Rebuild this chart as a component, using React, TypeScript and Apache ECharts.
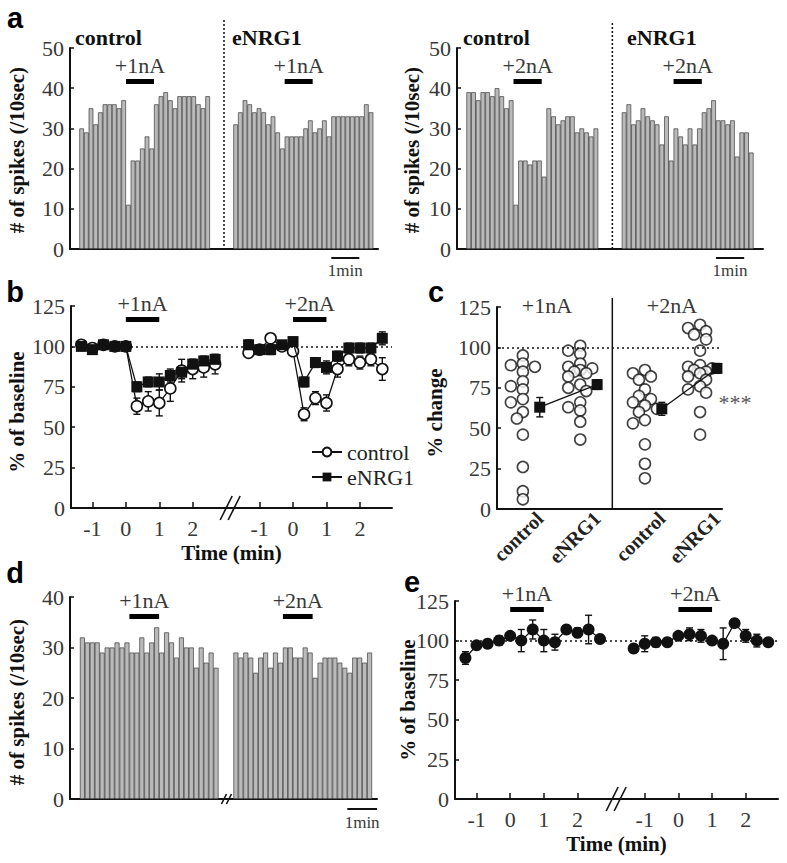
import React, { useEffect, useRef } from 'react';
import * as echarts from 'echarts';

// ================= DATA =================
// (a) number of spikes per 10-s bin
const aControl1nA = [30, 29, 35, 31, 34, 36, 36, 36, 35, 37, 11, 22, 22, 25, 28, 25, 36, 38, 39, 37, 35, 38, 38, 38, 38, 36, 35, 38];
const aENRG1_1nA = [31, 34, 37, 36, 34, 35, 34, 31, 33, 29, 25, 28, 28, 28, 28, 30, 32, 29, 30, 32, 28, 33, 33, 33, 33, 33, 33, 33, 36, 34];
const aControl2nA = [39, 39, 37, 39, 39, 38, 40, 38, 35, 37, 11, 22, 22, 21, 22, 22, 18, 35, 33, 31, 32, 33, 33, 29, 30, 29, 28, 30];
const aENRG1_2nA = [34, 36, 31, 32, 35, 33, 32, 31, 26, 33, 22, 30, 28, 26, 30, 26, 30, 34, 35, 37, 32, 32, 31, 32, 23, 29, 29, 24];

// (b) % of baseline (20-s bins), time in min
const timePoints = [-1.33, -1, -0.67, -0.33, 0, 0.33, 0.67, 1, 1.33, 1.67, 2, 2.33, 2.67];
const bControl1nA = [101, 99, 101, 100, 100, 63, 66, 65, 74, 85, 86, 87, 89];
const bControl1nAErr = [2, 2, 2, 2, 2, 5, 6, 8, 8, 7, 6, 6, 6];
const bENRG1_1nA = [100, 98, 101, 100, 100, 75, 78, 78, 82, 84, 89, 91, 92];
const bENRG1_1nAErr = [2, 2, 2, 2, 2, 3, 3, 5, 4, 4, 3, 3, 3];
const bControl2nA = [96, 98, 105, 100, 97, 58, 68, 65, 86, 92, 90, 92, 86];
const bControl2nAErr = [2, 3, 2, 2, 2, 4, 4, 5, 5, 4, 4, 4, 7];
const bENRG1_2nA = [101, 98, 98, 101, 103, 78, 90, 87, 94, 99, 99, 99, 105];
const bENRG1_2nAErr = [3, 3, 3, 2, 2, 3, 3, 4, 3, 3, 3, 3, 4];
const timeTicks = [-1, 0, 1, 2];

// (c) % change, individual cells and mean ± SEM
const cCategories = ['control', 'eNRG1', 'control', 'eNRG1'];
const cControl1nA = [95, 90, 89, 88, 85, 79, 76, 74, 68, 66, 60, 56, 46, 26, 11, 6];
const cENRG1_1nA = [101, 98, 96, 90, 88, 87, 86, 85, 84, 82, 77, 75, 73, 66, 63, 61, 54, 43];
const cControl2nA = [86, 84, 82, 80, 74, 70, 68, 66, 64, 62, 60, 55, 53, 40, 28, 19];
const cENRG1_2nA = [114, 112, 110, 108, 105, 98, 89, 88, 87, 86, 85, 84, 82, 80, 76, 74, 72, 60, 46];
const cMeans = [63, 77, 62, 87];
const cMeanErr = [6, 3, 4, 3];

// (d) number of spikes per 10-s bin
const d1nA = [32, 31, 31, 31, 29, 30, 30, 31, 30, 31, 29, 29, 32, 29, 31, 34, 29, 33, 31, 28, 32, 30, 30, 26, 30, 27, 29, 26];
const d2nA = [29, 28, 29, 28, 25, 28, 29, 26, 29, 27, 30, 30, 28, 28, 30, 29, 24, 27, 28, 28, 28, 27, 26, 25, 28, 28, 27, 29];

// (e) % of baseline
const e1nA = [89, 97, 98, 100, 103, 100, 107, 100, 99, 107, 105, 107, 101];
const e1nAErr = [4, 2, 2, 3, 2, 7, 6, 7, 5, 2, 3, 9, 2];
const e2nA = [95, 98, 99, 99, 103, 104, 103, 100, 98, 111, 103, 100, 99];
const e2nAErr = [2, 5, 3, 2, 2, 4, 4, 2, 10, 2, 4, 4, 2];

// ================= LAYOUT / STYLE =================
const SERIF = 'Liberation Serif, Times New Roman, Times, serif';
const SANS = 'Liberation Sans, Arial, Helvetica, sans-serif';
const INK = '#111';
const LABEL = '#383838';
const BAR_FILL = '#bababa';
const SHIFT = 5; // second protocol drawn 5 min to the right on the time axes

const GRIDS = [
  { left: 70, top: 48, width: 308, height: 201 }, // a left
  { left: 457, top: 48, width: 306, height: 201 }, // a right
  { left: 71, top: 306, width: 321, height: 202 }, // b
  { left: 497, top: 307, width: 225, height: 202 }, // c
  { left: 70, top: 597, width: 307, height: 202 }, // d
  { left: 455, top: 601, width: 323, height: 198 }, // e
];
// bin layout for the histogram panels: [nBins, offset of 1st trace, offset of 2nd trace]
const BIN_LAYOUT = { aL: [66, 2, 35], aR: [65, 2, 35], d: [62, 2, 33] };
// stimulus start (index within trace)
const STIM_IDX = { aL: [10, 11], aR: [10, 11], d: [10, 10] };
const C_POS = [-0.04, 0.98, 2.13, 3.11];
const MEAN_DX = 0.3;

function binned(n: number, segs: [number, number[]][]) {
  const arr: (number | string)[] = new Array(n).fill('-');
  segs.forEach(([off, vals]) => vals.forEach((v, i) => (arr[off + i] = v)));
  return arr;
}

// simple beeswarm layout: horizontal offsets (px) so that circles overlap only partially
function swarm(vals: number[], center: number, pxPerX: number, pxPerY: number) {
  const placed: [number, number][] = [];
  const offs = [0, -1, 1, -2, 2].map((k) => k * 6);
  return vals.map((v) => {
    let best = 0;
    let bestScore = -Infinity;
    for (const o of offs) {
      const minD = placed.reduce((m, [ox, oy]) => Math.min(m, Math.hypot(ox - o, (oy - v) * pxPerY)), Infinity);
      if (minD >= 8) { best = o; bestScore = Infinity; break; }
      if (minD > bestScore + 0.5) { bestScore = minD; best = o; }
    }
    placed.push([best, v]);
    return [center + best / pxPerX, v];
  });
}

function errRender(_p: any, api: any) {
  const x = api.value(0), y = api.value(1), e = api.value(2);
  const top = api.coord([x, y + e]);
  const bot = api.coord([x, y - e]);
  const w = 3.5;
  const st = { stroke: INK, lineWidth: 1.4 };
  return {
    type: 'group',
    children: [
      { type: 'line', shape: { x1: top[0], y1: top[1], x2: bot[0], y2: bot[1] }, style: st },
      { type: 'line', shape: { x1: top[0] - w, y1: top[1], x2: top[0] + w, y2: top[1] }, style: st },
      { type: 'line', shape: { x1: bot[0] - w, y1: bot[1], x2: bot[0] + w, y2: bot[1] }, style: st },
    ],
  };
}

const yAx = (gi: number, max: number, interval: number) => ({
  type: 'value', gridIndex: gi, min: 0, max, interval,
  splitLine: { show: false },
  axisLine: { show: true, onZero: false, lineStyle: { color: INK, width: 2 } },
  axisTick: { show: true, inside: true, length: 4, lineStyle: { color: INK, width: 1.5 } },
  axisLabel: { fontFamily: SERIF, fontSize: 22, color: LABEL, margin: 6 },
});

const xBar = (gi: number, n: number) => ({
  type: 'category', gridIndex: gi, data: Array.from({ length: n }, (_, i) => String(i)),
  boundaryGap: true,
  axisLine: { onZero: false, lineStyle: { color: INK, width: 2 } },
  axisTick: { show: false }, axisLabel: { show: false }, splitLine: { show: false },
});

const timeCustom = [...timeTicks, ...timeTicks.map((t) => t + SHIFT)];
const xTime = (gi: number) => ({
  type: 'value', gridIndex: gi, min: -1.64, max: 7.96,
  splitLine: { show: false },
  axisLine: { onZero: false, lineStyle: { color: INK, width: 2 } },
  axisTick: { show: true, inside: true, length: 6, customValues: timeCustom, lineStyle: { color: INK, width: 1.5 } },
  axisLabel: {
    customValues: timeCustom, fontFamily: SERIF, fontSize: 22, color: LABEL, margin: 9,
    formatter: (v: number) => String(v > 3 ? Math.round(v - SHIFT) : Math.round(v)),
  },
  name: 'Time (min)', nameLocation: 'middle', nameGap: 34,
  nameTextStyle: { fontFamily: SERIF, fontSize: 21, fontWeight: 'bold', color: INK },
});

const barStyle = { color: BAR_FILL, borderColor: '#3c3c3c', borderWidth: 0.7 };
const barSeries = (i: number, n: number, segs: [number, number[]][]) => ({
  type: 'bar', xAxisIndex: i, yAxisIndex: i, data: binned(n, segs),
  barCategoryGap: '0%', barGap: '0%', itemStyle: barStyle, silent: true,
});

const baseline100 = {
  silent: true, symbol: ['none', 'none'], label: { show: false },
  lineStyle: { type: [2, 3], color: INK, width: 1.6 }, data: [{ yAxis: 100 }],
};

const openCircle = { color: '#fff', borderColor: INK, borderWidth: 1.6 };
const solid = { color: INK, borderColor: INK, borderWidth: 0 };
const lineSeries = (name: string, i: number, data: number[][], symbol: string, size: number, itemStyle: any, extra: any = {}) => ({
  name, type: 'line', xAxisIndex: i, yAxisIndex: i, data, symbol, symbolSize: size, itemStyle,
  lineStyle: { color: INK, width: 1.3 }, showSymbol: true, emphasis: { disabled: true }, z: 3, ...extra,
});
const errSeries = (i: number, rows: number[][]) => ({
  type: 'custom', xAxisIndex: i, yAxisIndex: i, data: rows, encode: { x: 0, y: 1 },
  renderItem: errRender, silent: true, z: 2,
});

const pts = (vals: number[], shift = 0) => timePoints.map((t, k) => [t + shift, vals[k]]);
const errRows = (vals: number[], errs: number[], shift = 0) => timePoints.map((t, k) => [t + shift, vals[k], errs[k]]);

function buildOption() {
  const [nL, oL1, oL2] = BIN_LAYOUT.aL;
  const [nR, oR1, oR2] = BIN_LAYOUT.aR;
  const [nD, oD1, oD2] = BIN_LAYOUT.d;
  const pxX = GRIDS[3].width / 4;
  const pxY = GRIDS[3].height / 125;
  const cGroups = [cControl1nA, cENRG1_1nA, cControl2nA, cENRG1_2nA];
  const cPoints = cGroups.flatMap((g, i) => swarm(g, C_POS[i], pxX, pxY));
  const meanPt = (i: number) => [C_POS[i] + MEAN_DX, cMeans[i]];

  return {
    animation: false,
    backgroundColor: '#fff',
    grid: GRIDS.map((g) => ({ ...g, containLabel: false })),
    xAxis: [
      xBar(0, nL),
      xBar(1, nR),
      xTime(2),
      {
        type: 'value', gridIndex: 3, min: -0.5, max: 3.5, splitLine: { show: false },
        axisLine: { onZero: false, lineStyle: { color: INK, width: 2 } }, axisTick: { show: false },
        axisLabel: {
          customValues: C_POS.map((p) => p + MEAN_DX), rotate: 45, fontFamily: SERIF, fontSize: 20,
          fontWeight: 'bold', color: '#222', margin: 6,
          formatter: (v: number) => {
            let best = 0;
            C_POS.forEach((p, i) => { if (Math.abs(p + MEAN_DX - v) < Math.abs(C_POS[best] + MEAN_DX - v)) best = i; });
            return cCategories[best];
          },
        },
      },
      xBar(4, nD),
      xTime(5),
    ],
    yAxis: [yAx(0, 50, 10), yAx(1, 50, 10), yAx(2, 125, 25), yAx(3, 125, 25), yAx(4, 40, 10), yAx(5, 125, 25)],
    legend: {
      data: ['control', 'eNRG1'], left: 306, top: 436, orient: 'vertical', itemWidth: 30, itemHeight: 11,
      itemGap: 3, selectedMode: false,
      textStyle: { fontFamily: SERIF, fontSize: 22, color: '#222' },
    },
    series: [
      barSeries(0, nL, [[oL1, aControl1nA], [oL2, aENRG1_1nA]]),
      barSeries(1, nR, [[oR1, aControl2nA], [oR2, aENRG1_2nA]]),
      barSeries(4, nD, [[oD1, d1nA], [oD2, d2nA]]),
      // b
      errSeries(2, [
        ...errRows(bControl1nA, bControl1nAErr), ...errRows(bControl2nA, bControl2nAErr, SHIFT),
        ...errRows(bENRG1_1nA, bENRG1_1nAErr), ...errRows(bENRG1_2nA, bENRG1_2nAErr, SHIFT),
      ]),
      lineSeries('control', 2, pts(bControl1nA), 'circle', 11, openCircle, { markLine: baseline100 }),
      lineSeries('control', 2, pts(bControl2nA, SHIFT), 'circle', 11, openCircle),
      lineSeries('eNRG1', 2, pts(bENRG1_1nA), 'rect', 11, solid, { z: 4 }),
      lineSeries('eNRG1', 2, pts(bENRG1_2nA, SHIFT), 'rect', 11, solid, { z: 4 }),
      // c
      {
        type: 'scatter', xAxisIndex: 3, yAxisIndex: 3, data: cPoints, symbol: 'circle', symbolSize: 11,
        itemStyle: openCircle, silent: true, z: 3, markLine: baseline100,
      },
      errSeries(3, [0, 1, 2, 3].map((i) => [...meanPt(i), cMeanErr[i]])),
      lineSeries('mean1', 3, [meanPt(0), meanPt(1)], 'rect', 11, solid, { z: 4 }),
      lineSeries('mean2', 3, [meanPt(2), meanPt(3)], 'rect', 11, solid, { z: 4 }),
      // e
      errSeries(5, [...errRows(e1nA, e1nAErr), ...errRows(e2nA, e2nAErr, SHIFT)]),
      lineSeries('e1', 5, pts(e1nA), 'circle', 12, solid, { markLine: baseline100 }),
      lineSeries('e2', 5, pts(e2nA, SHIFT), 'circle', 12, solid),
    ],
  };
}

function buildGraphic(chart: any) {
  const g: any[] = [];
  const px = (ax: number, v: number) => chart.convertToPixel({ xAxisIndex: ax }, v) as number;
  const binEdge = (ax: number, b: number) => {
    const c0 = px(ax, 0), c1 = px(ax, 1);
    const bw = c1 - c0;
    return c0 - bw / 2 + b * bw;
  };
  const text = (x: number, y: number, t: string, o: any = {}) =>
    g.push({
      type: 'text', x, y, silent: true,
      style: { text: t, fontFamily: SERIF, fontSize: 22, fill: LABEL, align: 'center', verticalAlign: 'middle', ...o },
    });
  const rect = (x0: number, x1: number, y: number, h: number) =>
    g.push({ type: 'rect', silent: true, shape: { x: x0, y, width: x1 - x0, height: h }, style: { fill: '#000' } });
  const line = (x1: number, y1: number, x2: number, y2: number, st: any = {}) =>
    g.push({ type: 'line', silent: true, shape: { x1, y1, x2, y2 }, style: { stroke: INK, lineWidth: 1.3, ...st } });
  const stim = (x0: number, x1: number, barY: number, label: string) => {
    rect(x0, x1, barY, 5);
    text((x0 + x1) / 2, barY - 14, label);
  };
  const slash = (xc: number, yc: number, h: number, gap: number) => {
    [-gap / 2, gap / 2].forEach((d) => line(xc + d - h / 4, yc + h / 2, xc + d + h / 4, yc - h / 2, { lineWidth: 1.6 }));
  };
  const vName = (x: number, y: number, t: string) =>
    g.push({
      type: 'text', x, y, rotation: Math.PI / 2, silent: true,
      style: { text: t, fontFamily: SERIF, fontSize: 21, fontWeight: 'bold', fill: INK, align: 'center', verticalAlign: 'middle' },
    });
  const letter = (x: number, y: number, t: string) =>
    text(x, y, t, { fontFamily: SANS, fontSize: 29, fontWeight: 'bold', fill: '#000' });

  // panel letters
  letter(15, 18, 'a'); letter(15, 292, 'b'); letter(436, 292, 'c'); letter(15, 573, 'd'); letter(412, 582, 'e');

  // axis names
  vName(17, 150, '# of spikes (/10sec)');
  vName(412, 150, '# of spikes (/10sec)');
  vName(17, 412, '% of baseline');
  vName(435, 413, '% change');
  vName(17, 702, '# of spikes (/10sec)');
  vName(408, 700, '% of baseline');

  // (a)
  const [, oL1, oL2] = BIN_LAYOUT.aL;
  const [, oR1, oR2] = BIN_LAYOUT.aR;
  const [, oD1, oD2] = BIN_LAYOUT.d;
  const bold = { fontWeight: 'bold', fill: INK, align: 'left', fontSize: 22 };
  text(75, 37, 'control', bold); text(232, 37, 'eNRG1', bold);
  text(463, 37, 'control', bold); text(627, 37, 'eNRG1', bold);
  [[0, oL1, oL2, STIM_IDX.aL, '+1nA'], [1, oR1, oR2, STIM_IDX.aR, '+2nA']].forEach(([ax, o1, o2, st, lab]: any) => {
    stim(binEdge(ax, o1 + st[0]), binEdge(ax, o1 + st[0] + 6), 79, lab);
    stim(binEdge(ax, o2 + st[1]), binEdge(ax, o2 + st[1] + 6), 79, lab);
    const xd = binEdge(ax, 33);
    line(xd, ax === 0 ? 20 : 23, xd, 249, { lineDash: [2, 2], lineWidth: 1.5 });
  });
  // scale bars
  [[0, 56, 258, 270], [1, 55, 258, 270], [4, 56, 809, 822]].forEach(([ax, b, y, ty]) => {
    const x0 = binEdge(ax, b), x1 = binEdge(ax, b + 6);
    line(x0, y, x1, y, { lineWidth: 2 });
    text((x0 + x1) / 2, ty, '1min', { fontSize: 17 });
  });

  // (b)
  stim(px(2, 0), px(2, 1), 317, '+1nA');
  stim(px(2, SHIFT), px(2, SHIFT + 1), 317, '+2nA');
  slash(px(2, 3.12), 508, 24, 8);

  // (c)
  const sx = px(3, 1.55);
  line(sx, 298, sx, 509, { lineWidth: 1.5 });
  text(547, 305, '+1nA');
  text(672, 305, '+2nA');
  text(735, 402, '***', { fontSize: 22, fill: '#555' });

  // (d)
  stim(binEdge(4, oD1 + STIM_IDX.d[0]), binEdge(4, oD1 + STIM_IDX.d[0] + 6), 614, '+1nA');
  stim(binEdge(4, oD2 + STIM_IDX.d[1]), binEdge(4, oD2 + STIM_IDX.d[1] + 6), 614, '+2nA');
  slash(binEdge(4, 31.6), 799, 10, 5);

  // (e)
  stim(px(5, 0), px(5, 1), 607, '+1nA');
  stim(px(5, SHIFT), px(5, SHIFT + 1), 607, '+2nA');
  slash(px(5, 3.15), 799, 24, 8);

  return g;
}

export default function App() {
  const ref = useRef<HTMLDivElement>(null);
  useEffect(() => {
    if (!ref.current) return;
    const chart = echarts.init(ref.current, undefined, { renderer: 'svg' });
    chart.setOption(buildOption() as any);
    chart.setOption({ graphic: buildGraphic(chart) } as any);
    return () => chart.dispose();
  }, []);
  return (
    <div
      ref={ref}
      style={{ position: 'absolute', left: 0, top: 0, width: 787, height: 863, background: '#fff' }}
    />
  );
}
